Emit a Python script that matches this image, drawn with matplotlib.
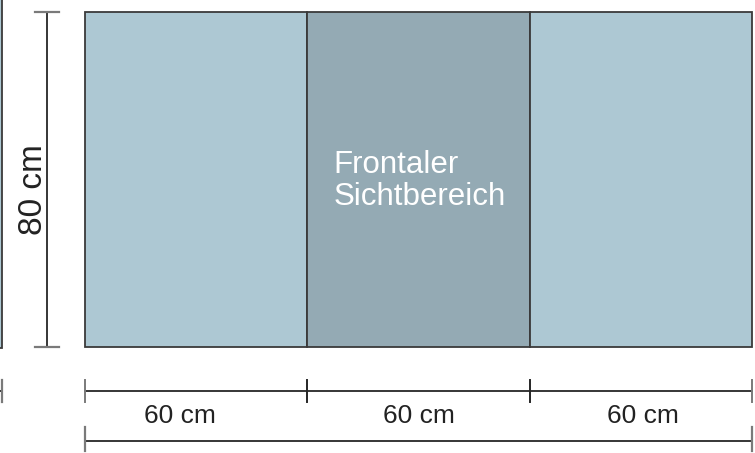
import matplotlib.pyplot as plt
from matplotlib.patches import Rectangle

plt.rcParams['font.family'] = ['Liberation Sans', 'DejaVu Sans']

# panel widths (cm) and height (cm)
widths = [60, 60, 60]
height = 80
fills = ['#adc8d3', '#94aab4', '#adc8d3']
center_label = 'Frontaler\nSichtbereich'
unit = 'cm'

total = sum(widths)

# figure in pixel-like layout, data axes in cm
W, H = 755, 453
x0_px, x1_px = 85, 752
y0_px, y1_px = 347, 12
sx = (x1_px - x0_px) / total
sy = (y0_px - y1_px) / height

fig = plt.figure(figsize=(W / 100, H / 100), dpi=100)
ax = fig.add_axes([0, 0, 1, 1])
ax.set_xlim(-x0_px / sx, total + (W - x1_px) / sx)
ax.set_ylim(-(H - y0_px) / sy, height + y1_px / sy)
ax.axis('off')

dark = '#262626'
edge = '#3a3a3a'
cap = '#7a7a7a'

# panels
left = 0
for w, c in zip(widths, fills):
    ax.add_patch(Rectangle((left, 0), w, height, facecolor=c,
                           edgecolor=edge, linewidth=1.3))
    left += w

# text in the middle panel
mid_left = widths[0]
tx = mid_left + 26 / sx
for i, line in enumerate(center_label.split('\n')):
    ax.text(tx, 41.5 - i * 32 / sy, line, color='white', fontsize=22.5,
            ha='left', va='baseline')

# cut-off neighbour on the left edge
edge_x = -83 / sx
ax.add_patch(Rectangle((edge_x - 30, -0.2), 30, height + 10, facecolor=fills[0],
                       edgecolor=edge, linewidth=1.3))

# vertical dimension
vx = -38 / sx
ax.plot([vx, vx], [0, height], color=dark, lw=1.3)
for y in (0, height):
    ax.plot([vx - 11.5 / sx, vx + 11.5 / sx], [y, y], color=cap, lw=1.6)
ax.text(vx - 14 / sx, height / 2 - 10 / sy, f'{height} {unit}', rotation=90,
        ha='center', va='center', fontsize=24, color='#222222')

# horizontal dimension (segments)
hy = -44 / sy
th = 11 / sy
ax.plot([0, total], [hy, hy], color=dark, lw=1.3)
ax.plot([edge_x - 5, edge_x], [hy, hy], color=dark, lw=1.3)
ax.plot([edge_x, edge_x], [hy - th, hy + th], color=cap, lw=1.6)
pos = 0
bounds = [0]
for w in widths:
    pos += w
    bounds.append(pos)
for i, b in enumerate(bounds):
    col = cap if i in (0, len(bounds) - 1) else dark
    ax.plot([b, b], [hy - th, hy + th], color=col, lw=1.4)

label_shift = [-16, 0, 2]
for i, w in enumerate(widths):
    cx = bounds[i] + w / 2 + label_shift[i] / sx
    ax.text(cx, -76 / sy, f'{w} {unit}', ha='center', va='baseline',
            fontsize=19, color='#222222')

# total dimension
ty = -94 / sy
ax.plot([0, total], [ty, ty], color=dark, lw=1.3)
for b in (0, total):
    ax.plot([b, b], [ty - 10 / sy, ty + 14 / sy], color=cap, lw=1.6)

fig.savefig('out.png', dpi=100)
